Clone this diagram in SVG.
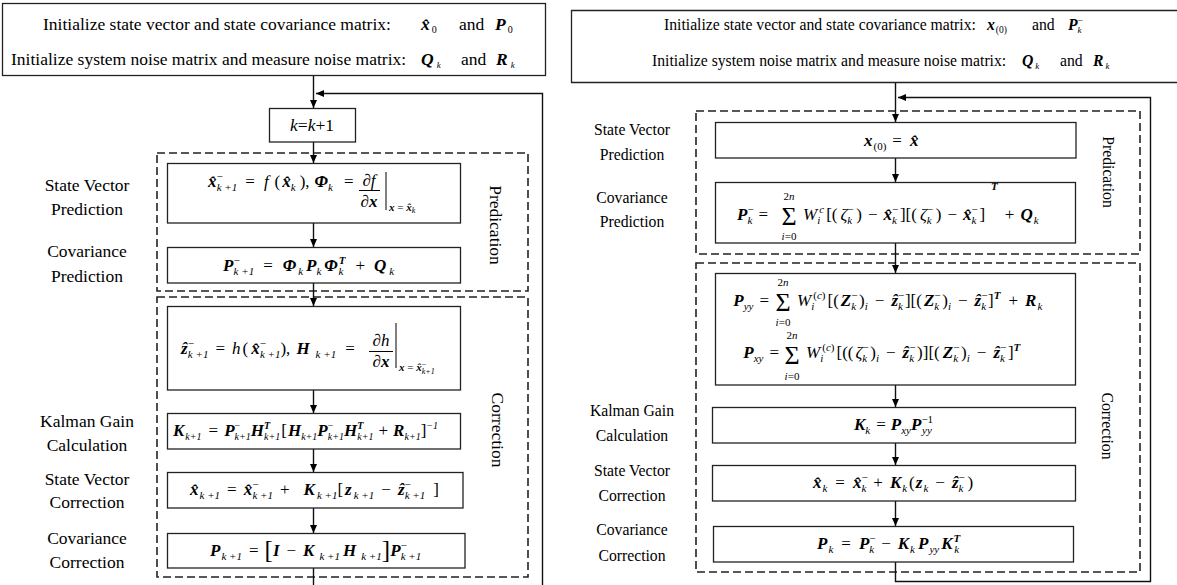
<svg xmlns="http://www.w3.org/2000/svg" width="1177" height="585" viewBox="0 0 1177 585">
<defs>
<style>
text{font-family:"Liberation Serif","Times New Roman",serif;fill:#000}
.L{font-size:17px}
.LT{font-size:17.5px}
.R{font-size:17px}
.RT{font-size:15.7px}
.s{font-size:11px}
.u{font-size:10px}
.t{font-size:11px}
.bi{font-weight:bold;font-style:italic}
.it{font-style:italic}
.box{fill:#fff;stroke:#222;stroke-width:1.3}
.dash{fill:none;stroke:#222;stroke-width:1.6;stroke-dasharray:8 4}
.ln{fill:none;stroke:#111;stroke-width:1.4}
.ar{marker-end:url(#ah)}
.thin{stroke:#000;stroke-width:1}
.rot{text-anchor:middle}
.sig{font-size:26px}
</style>
<marker id="ah" viewBox="0 0 8 7" refX="8" refY="3.5" markerWidth="8" markerHeight="7" orient="auto" markerUnits="userSpaceOnUse"><path d="M0,0 L8,3.5 L0,7 z" fill="#000"/></marker>
</defs>
<rect width="1177" height="585" fill="#fff"/>

<!-- ================= LEFT ================= -->
<g id="left-prediction-frame"><rect class="dash" x="157" y="153" width="371" height="138"/><text class="LT rot" transform="translate(489.5,225) rotate(90)">Predication</text></g>
<g id="left-correction-frame"><rect class="dash" x="157" y="297" width="371" height="280"/><text class="LT rot" transform="translate(491.5,430) rotate(90)">Correction</text></g>

<g id="left-connectors">
<path class="ln ar" d="M313.5,75.5 V108"/>
<path class="ln ar" d="M313.5,142 V163"/>
<path class="ln ar" d="M313.5,223 V247"/>
<path class="ln ar" d="M313.5,283 V306"/>
<path class="ln ar" d="M313.5,390 V413"/>
<path class="ln ar" d="M313.5,449 V472"/>
<path class="ln ar" d="M313.5,508 V533"/>
<path class="ln" d="M313.5,568 V585"/>
<path class="ln ar" d="M542.5,585 V93.5 H316"/>
</g>

<g id="left-init"><rect class="box" x="2.5" y="3.5" width="543" height="72"/>
<text class="LT" x="43" y="30">Initialize state vector and state covariance matrix:<tspan class="bi" x="421">x̂</tspan><tspan font-size="10" dx="2" dy="3">0</tspan><tspan x="459" dy="-3">and</tspan><tspan class="bi" x="495">P</tspan><tspan font-size="10" dx="2" dy="3">0</tspan></text>
<text class="LT" x="11" y="65">Initialize system noise matrix and measure noise matrix:<tspan class="bi" x="421">Q</tspan><tspan font-size="9" class="it" dx="3" dy="3">k</tspan><tspan x="461" dy="-3">and</tspan><tspan class="bi" x="496">R</tspan><tspan font-size="9" class="it" dx="3" dy="3">k</tspan></text>
</g>

<g id="left-k"><rect class="box" x="269.5" y="108.5" width="86" height="33.5"/><text class="LT" x="312" y="131" text-anchor="middle"><tspan class="it">k</tspan>=<tspan class="it">k</tspan>+1</text></g>

<g id="left-state-pred"><rect class="box" x="167.5" y="163.5" width="293" height="59.5"/>
<text class="L" x="208" y="187"><tspan class="bi">x̂</tspan><tspan class="s" dy="-7">−</tspan><tspan class="s it" dx="-6" dy="11">k +1</tspan><tspan dx="8" dy="-4">=</tspan><tspan class="it" dx="9">f</tspan><tspan dx="6">(</tspan><tspan class="bi" dx="2">x̂</tspan><tspan class="s it" dy="4">k</tspan><tspan dx="4" dy="-4">),</tspan><tspan class="bi" dx="5">Φ</tspan><tspan class="s it" dy="4">k</tspan><tspan dx="11" dy="-4">=</tspan></text>
<text class="L" x="369" y="186" text-anchor="middle">∂<tspan class="it">f</tspan></text>
<line class="thin" x1="359" y1="190.5" x2="380" y2="190.5"/>
<text class="L" x="369" y="207" text-anchor="middle">∂<tspan class="bi">x</tspan></text>
<line class="thin" x1="386" y1="172" x2="386" y2="210"/>
<text class="t" x="389" y="211" font-size="10"><tspan class="bi">x</tspan> = <tspan class="bi">x̂</tspan><tspan font-size="8" class="it" dy="2">k</tspan></text>
</g>

<g id="left-cov-pred"><rect class="box" x="167.5" y="247.5" width="293" height="35.5"/>
<text class="L" x="223" y="271"><tspan class="bi">P</tspan><tspan class="s" dy="-7">−</tspan><tspan class="s it" dx="-6" dy="11">k +1</tspan><tspan dx="9" dy="-4">=</tspan><tspan class="bi" dx="10">Φ</tspan><tspan class="s it" dx="2" dy="4">k</tspan><tspan class="bi" dx="3" dy="-4">P</tspan><tspan class="s it" dy="4">k</tspan><tspan class="bi" dx="3" dy="-4">Φ</tspan><tspan class="s bi" dx="1" dy="-7">T</tspan><tspan class="s it" dx="-7" dy="11">k</tspan><tspan dx="12" dy="-4">+</tspan><tspan class="bi" dx="9">Q</tspan><tspan class="s it" dx="3" dy="4">k</tspan></text>
</g>

<g id="left-measurement"><rect class="box" x="167.5" y="306.5" width="293" height="83.5"/>
<text class="L" x="181" y="354"><tspan class="bi">ẑ</tspan><tspan class="s" dy="-7">−</tspan><tspan class="s it" dx="-6" dy="11">k +1</tspan><tspan dx="7" dy="-4">=</tspan><tspan class="it" dx="7">h</tspan><tspan dx="2">(</tspan><tspan class="bi" dx="3">x̂</tspan><tspan class="s" dy="-7">−</tspan><tspan class="s it" dx="-6" dy="11">k +1</tspan><tspan dy="-4">),</tspan><tspan class="bi" dx="6">H</tspan><tspan class="s it" dx="6" dy="4">k +1</tspan><tspan dx="9" dy="-4">=</tspan></text>
<text class="L" x="381" y="346" text-anchor="middle">∂<tspan class="it">h</tspan></text>
<line class="thin" x1="369" y1="351.5" x2="393" y2="351.5"/>
<text class="L" x="381" y="367" text-anchor="middle">∂<tspan class="bi">x</tspan></text>
<line class="thin" x1="396" y1="323" x2="396" y2="368"/>
<text class="t" x="399" y="371" font-size="10"><tspan class="bi">x</tspan> = <tspan class="bi">x̂</tspan><tspan font-size="8" dy="-4">−</tspan><tspan font-size="8" class="it" dx="-4.5" dy="7">k+1</tspan></text>
</g>

<g id="left-gain"><rect class="box" x="167.5" y="413.5" width="293" height="35.5"/>
<text class="L" x="173" y="436"><tspan class="bi">K</tspan><tspan class="u it" dx="1" dy="4">k+1</tspan><tspan dx="7" dy="-4">=</tspan><tspan class="bi" dx="6">P</tspan><tspan class="u" dy="-7">−</tspan><tspan class="u it" dx="-5.6" dy="11">k+1</tspan><tspan class="bi" dy="-4">H</tspan><tspan class="u bi" dy="-7">T</tspan><tspan class="u it" dx="-6" dy="11">k+1</tspan><tspan dy="-4" dx="1">[</tspan><tspan class="bi" dx="1">H</tspan><tspan class="u it" dy="4">k+1</tspan><tspan class="bi" dy="-4">P</tspan><tspan class="u" dy="-7">−</tspan><tspan class="u it" dx="-5.6" dy="11">k+1</tspan><tspan class="bi" dy="-4">H</tspan><tspan class="u bi" dy="-7">T</tspan><tspan class="u it" dx="-6" dy="11">k+1</tspan><tspan dx="5" dy="-4">+</tspan><tspan class="bi" dx="5">R</tspan><tspan class="u it" dy="4">k+1</tspan><tspan dy="-4">]</tspan><tspan class="u it" dy="-7">−1</tspan></text>
</g>

<g id="left-state-corr"><rect class="box" x="167.5" y="472.5" width="295.5" height="35.5"/>
<text class="L" x="190" y="495"><tspan class="bi">x̂</tspan><tspan class="s it" dx="1" dy="4">k +1</tspan><tspan dx="7" dy="-4">=</tspan><tspan class="bi" dx="7">x̂</tspan><tspan class="s" dy="-7">−</tspan><tspan class="s it" dx="-6" dy="11">k +1</tspan><tspan dx="7" dy="-4">+</tspan><tspan class="bi" dx="14">K</tspan><tspan class="s it" dx="2" dy="4">k +1</tspan><tspan dy="-4">[</tspan><tspan class="bi" dx="2">z</tspan><tspan class="s it" dx="2" dy="4">k +1</tspan><tspan dx="7" dy="-4">−</tspan><tspan class="bi" dx="7">ẑ</tspan><tspan class="s" dy="-7">−</tspan><tspan class="s it" dx="-6" dy="11">k +1</tspan><tspan dx="8" dy="-4">]</tspan></text>
</g>

<g id="left-cov-corr"><rect class="box" x="167.5" y="533.5" width="297.5" height="34.5"/>
<text class="L" x="210" y="556"><tspan class="bi">P</tspan><tspan class="s it" dx="1" dy="4">k +1</tspan><tspan dx="7" dy="-4">=</tspan><tspan font-size="25" dx="6" dy="2">[</tspan><tspan class="bi" dy="-2">I</tspan><tspan dx="7">−</tspan><tspan class="bi" dx="7">K</tspan><tspan class="s it" dx="5" dy="4">k +1</tspan><tspan class="bi" dx="3" dy="-4">H</tspan><tspan class="s it" dx="5" dy="4">k +1</tspan><tspan font-size="25" dy="-2">]</tspan><tspan class="bi" dy="-2">P</tspan><tspan class="s" dy="-7">−</tspan><tspan class="s it" dx="-6" dy="11">k +1</tspan></text>
</g>

<g id="left-labels">
<text class="LT" x="87" y="191" text-anchor="middle">State Vector</text>
<text class="LT" x="87" y="215" text-anchor="middle">Prediction</text>
<text class="LT" x="87" y="257" text-anchor="middle">Covariance</text>
<text class="LT" x="87" y="282" text-anchor="middle">Prediction</text>
<text class="LT" x="87" y="427" text-anchor="middle">Kalman Gain</text>
<text class="LT" x="87" y="451" text-anchor="middle">Calculation</text>
<text class="LT" x="87" y="485" text-anchor="middle">State Vector</text>
<text class="LT" x="87" y="508" text-anchor="middle">Correction</text>
<text class="LT" x="87" y="544" text-anchor="middle">Covariance</text>
<text class="LT" x="87" y="568" text-anchor="middle">Correction</text>
</g>

<!-- ================= RIGHT ================= -->
<g id="right-prediction-frame"><rect class="dash" x="696" y="111" width="444" height="143"/><text class="RT rot" transform="translate(1102.5,172) rotate(90)">Predication</text></g>
<g id="right-correction-frame"><rect class="dash" x="696" y="263" width="444" height="309"/><text class="RT rot" transform="translate(1101.5,426) rotate(90)">Correction</text></g>

<g id="right-connectors">
<path class="ln ar" d="M895.5,82.5 V122"/>
<path class="ln ar" d="M895.5,158 V182"/>
<path class="ln ar" d="M895.5,243 V273"/>
<path class="ln ar" d="M895.5,385 V407"/>
<path class="ln ar" d="M895.5,443 V465"/>
<path class="ln ar" d="M895.5,501 V526"/>
<path class="ln ar" d="M895.5,562 V581.5 H1150.5 V97.5 H898"/>
</g>

<g id="right-init"><path class="box" d="M1180,10.5 H571.5 V82.5 H1180"/>
<text class="RT" x="664" y="30">Initialize state vector and state covariance matrix:<tspan class="bi" x="987">x</tspan><tspan font-size="9.5" dx="1" dy="3">(0)</tspan><tspan x="1032" dy="-3">and</tspan><tspan class="bi" x="1068">P</tspan><tspan font-size="9.5" dy="-6">−</tspan><tspan font-size="9" class="it" dx="-5.4" dy="9">k</tspan></text>
<text class="RT" x="652" y="66">Initialize system noise matrix and measure noise matrix:<tspan class="bi" x="1022">Q</tspan><tspan font-size="9" class="it" dx="2" dy="3">k</tspan><tspan x="1060" dy="-3">and</tspan><tspan class="bi" x="1093">R</tspan><tspan font-size="9" class="it" dx="2" dy="3">k</tspan></text>
</g>

<g id="right-sigma-point"><rect class="box" x="715.5" y="122.5" width="360.5" height="35.5"/>
<text class="R" x="864" y="146"><tspan class="bi">x</tspan><tspan class="t" dx="1" dy="4">(0)</tspan><tspan dx="6" dy="-4">=</tspan><tspan class="bi" dx="8">x̂</tspan></text>
</g>

<g id="right-cov-pred"><rect class="box" x="715.5" y="182.5" width="360" height="60.5"/>
<text class="R" x="768" y="220" text-anchor="end"><tspan class="bi">P</tspan><tspan class="t" dy="-7">−</tspan><tspan class="t it" dx="-6.2" dy="11">k</tspan><tspan dx="6" dy="-4">=</tspan></text>
<text class="sig" x="789" y="225" text-anchor="middle">Σ</text>
<text class="t" x="789" y="199.5" text-anchor="middle">2<tspan class="it">n</tspan></text>
<text class="t" x="789" y="240.4" text-anchor="middle"><tspan class="it">i</tspan>=0</text>
<text class="R" x="803" y="220"><tspan class="it">W</tspan><tspan class="t it" dy="4">i</tspan><tspan class="t it" dx="-1" dy="-11">c</tspan><tspan dx="2" dy="7">[(</tspan><tspan class="it" dx="3">ζ</tspan><tspan class="t" dy="-7">−</tspan><tspan class="t it" dx="-6.2" dy="11">k</tspan><tspan dx="4" dy="-4">)</tspan><tspan dx="6">−</tspan><tspan class="bi" dx="6">x̂</tspan><tspan class="t" dy="-7">−</tspan><tspan class="t it" dx="-6.2" dy="11">k</tspan><tspan dx="3" dy="-4">][(</tspan><tspan class="it" dx="3">ζ</tspan><tspan class="t" dy="-7">−</tspan><tspan class="t it" dx="-6.2" dy="11">k</tspan><tspan dx="4" dy="-4">)</tspan><tspan dx="6">−</tspan><tspan class="bi" dx="6">x̂</tspan><tspan class="t" dy="-7">−</tspan><tspan class="t it" dx="-6.2" dy="11">k</tspan><tspan dx="3" dy="-4">]</tspan><tspan class="t bi" dx="6" dy="-30">T</tspan><tspan dx="7" dy="30">+</tspan><tspan class="bi" dx="6">Q</tspan><tspan class="t it" dx="1" dy="4">k</tspan></text>
</g>

<g id="right-measurement-cov"><rect class="box" x="715.5" y="273.5" width="360" height="111.5"/>
<text class="R" x="769" y="306" text-anchor="end"><tspan class="bi">P</tspan><tspan class="t it" dy="4">yy</tspan><tspan dx="6" dy="-4">=</tspan></text>
<text class="sig" x="783" y="311" text-anchor="middle">Σ</text>
<text class="t" x="783" y="285.5" text-anchor="middle">2<tspan class="it">n</tspan></text>
<text class="t" x="783" y="326.4" text-anchor="middle"><tspan class="it">i</tspan>=0</text>
<text class="R" x="797" y="306"><tspan class="it">W</tspan><tspan class="t it" dy="4">i</tspan><tspan class="t" dx="-1" dy="-11">(<tspan class="it">c</tspan>)</tspan><tspan dx="2" dy="7">[(</tspan><tspan class="bi" dx="2">Z</tspan><tspan class="t" dy="-7">−</tspan><tspan class="t it" dx="-6.2" dy="11">k</tspan><tspan dx="3" dy="-4">)</tspan><tspan class="t it" dy="4">i</tspan><tspan dx="7" dy="-4">−</tspan><tspan class="bi" dx="7">ẑ</tspan><tspan class="t" dy="-7">−</tspan><tspan class="t it" dx="-6.2" dy="11">k</tspan><tspan dx="2" dy="-4">][(</tspan><tspan class="bi" dx="2">Z</tspan><tspan class="t" dy="-7">−</tspan><tspan class="t it" dx="-6.2" dy="11">k</tspan><tspan dx="3" dy="-4">)</tspan><tspan class="t it" dy="4">i</tspan><tspan dx="7" dy="-4">−</tspan><tspan class="bi" dx="7">ẑ</tspan><tspan class="t" dy="-7">−</tspan><tspan class="t it" dx="-6.2" dy="11">k</tspan><tspan dx="2" dy="-4">]</tspan><tspan class="t bi" dy="-7">T</tspan><tspan dx="8" dy="7">+</tspan><tspan class="bi" dx="7">R</tspan><tspan class="t it" dx="1" dy="4">k</tspan></text>
<text class="R" x="779" y="358" text-anchor="end"><tspan class="bi">P</tspan><tspan class="t it" dy="4">xy</tspan><tspan dx="6" dy="-4">=</tspan></text>
<text class="sig" x="792" y="364" text-anchor="middle">Σ</text>
<text class="t" x="792" y="338.5" text-anchor="middle">2<tspan class="it">n</tspan></text>
<text class="t" x="792" y="379.5" text-anchor="middle"><tspan class="it">i</tspan>=0</text>
<text class="R" x="806" y="358"><tspan class="it">W</tspan><tspan class="t it" dy="4">i</tspan><tspan class="t" dx="-1" dy="-11">(<tspan class="it">c</tspan>)</tspan><tspan dx="2" dy="7">[((</tspan><tspan class="it" dx="2">ζ</tspan><tspan class="t" dy="-7">−</tspan><tspan class="t it" dx="-6.2" dy="11">k</tspan><tspan dx="3" dy="-4">)</tspan><tspan class="t it" dy="4">i</tspan><tspan dx="7" dy="-4">−</tspan><tspan class="bi" dx="7">ẑ</tspan><tspan class="t" dy="-7">−</tspan><tspan class="t it" dx="-6.2" dy="11">k</tspan><tspan dx="3" dy="-4">)][(</tspan><tspan class="bi" dx="3">Z</tspan><tspan class="t" dy="-7">−</tspan><tspan class="t it" dx="-6.2" dy="11">k</tspan><tspan dx="3" dy="-4">)</tspan><tspan class="t it" dy="4">i</tspan><tspan dx="7" dy="-4">−</tspan><tspan class="bi" dx="7">ẑ</tspan><tspan class="t" dy="-7">−</tspan><tspan class="t it" dx="-6.2" dy="11">k</tspan><tspan dx="3" dy="-4">]</tspan><tspan class="t bi" dy="-7">T</tspan></text>
</g>

<g id="right-gain"><rect class="box" x="712.5" y="407.5" width="363" height="35.5"/>
<text class="R" x="854" y="430"><tspan class="bi">K</tspan><tspan class="t it" dy="4">k</tspan><tspan dx="6" dy="-4">=</tspan><tspan class="bi" dx="5">P</tspan><tspan class="t it" dy="4">xy</tspan><tspan class="bi" dy="-4">P</tspan><tspan class="t" dy="-7">−1</tspan><tspan class="t it" dx="-11" dy="11">yy</tspan></text>
</g>

<g id="right-state-corr"><rect class="box" x="712.5" y="465.5" width="363" height="35.5"/>
<text class="R" x="893" y="488" text-anchor="middle"><tspan class="bi">x̂</tspan><tspan class="t it" dx="1" dy="4">k</tspan><tspan dx="8" dy="-4">=</tspan><tspan class="bi" dx="8">x̂</tspan><tspan class="t" dy="-7">−</tspan><tspan class="t it" dx="-6.2" dy="11">k</tspan><tspan dx="7" dy="-4">+</tspan><tspan class="bi" dx="7">K</tspan><tspan class="t it" dx="1" dy="4">k</tspan><tspan dx="2" dy="-4">(</tspan><tspan class="bi" dx="1">z</tspan><tspan class="t it" dx="1" dy="4">k</tspan><tspan dx="7" dy="-4">−</tspan><tspan class="bi" dx="7">ẑ</tspan><tspan class="t" dy="-7">−</tspan><tspan class="t it" dx="-6.2" dy="11">k</tspan><tspan dx="4" dy="-4">)</tspan></text>
</g>

<g id="right-cov-corr"><rect class="box" x="713.5" y="526.5" width="360" height="35.5"/>
<text class="R" x="817" y="549"><tspan class="bi">P</tspan><tspan class="t it" dx="1" dy="4">k</tspan><tspan dx="8" dy="-4">=</tspan><tspan class="bi" dx="8">P</tspan><tspan class="t" dy="-7">−</tspan><tspan class="t it" dx="-6.2" dy="11">k</tspan><tspan dx="7" dy="-4">−</tspan><tspan class="bi" dx="7">K</tspan><tspan class="t it" dx="1" dy="4">k</tspan><tspan class="bi" dx="3" dy="-4">P</tspan><tspan class="t it" dx="1" dy="4">yy</tspan><tspan class="bi" dx="2" dy="-4">K</tspan><tspan class="t bi" dx="1" dy="-7">T</tspan><tspan class="t it" dx="-6" dy="11">k</tspan></text>
</g>

<g id="right-labels">
<text class="RT" x="632" y="135" text-anchor="middle">State Vector</text>
<text class="RT" x="632" y="160" text-anchor="middle">Prediction</text>
<text class="RT" x="632" y="203" text-anchor="middle">Covariance</text>
<text class="RT" x="632" y="227" text-anchor="middle">Prediction</text>
<text class="RT" x="632" y="416" text-anchor="middle">Kalman Gain</text>
<text class="RT" x="632" y="441" text-anchor="middle">Calculation</text>
<text class="RT" x="632" y="476" text-anchor="middle">State Vector</text>
<text class="RT" x="632" y="501" text-anchor="middle">Correction</text>
<text class="RT" x="632" y="535" text-anchor="middle">Covariance</text>
<text class="RT" x="632" y="561" text-anchor="middle">Correction</text>
</g>
</svg>
